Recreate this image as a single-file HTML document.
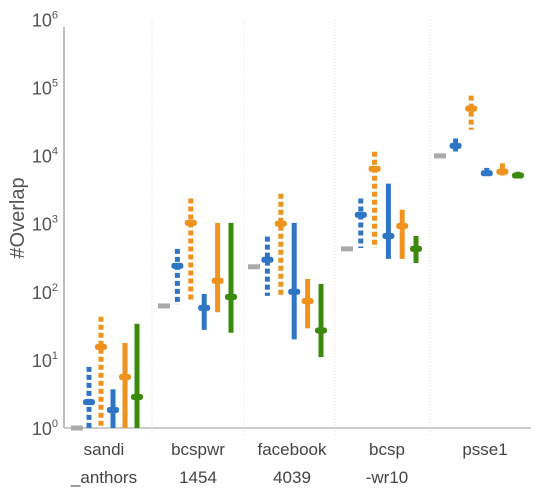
<!DOCTYPE html>
<html><head><meta charset="utf-8"><style>
html,body{margin:0;padding:0;background:#fff;}
svg{display:block;font-family:"Liberation Sans",sans-serif;}
</style></head><body>
<svg id="chart" width="535" height="490">
<g id="axes"></g>
<g id="marks"></g>
</svg>
<script>
const categories = [["sandi","_anthors"],["bcspwr","1454"],["facebook","4039"],["bcsp","-wr10"],["psse1",""]];
const seriesNames = ["baseline","blue-dashed","orange-dashed","blue-solid","orange-solid","green-solid"];
const grayVals = [1, 62, 233, 427, 9900];
const blueDashMin = [1, 64, 87, 440, 11000];
const blueDashMed = [2.4, 240, 295, 1350, 13900];
const blueDashMax = [7.9, 427, 646, 2340, 17800];
const orangeDashMin = [1, 70, 87, 440, 24000];
const orangeDashMed = [15.5, 1030, 1000, 6380, 49000];
const orangeDashMax = [43, 2340, 2750, 11400, 76000];
const blueMin = [1, 27.6, 20, 305, 5100];
const blueMed = [1.84, 58, 100, 660, 5500];
const blueMax = [3.7, 93, 1030, 3870, 6600];
const orangeMin = [1, 50, 29, 305, 5100];
const orangeMed = [5.6, 145, 73, 925, 5800];
const orangeMax = [17.7, 1030, 155, 1600, 7700];
const greenMin = [1, 25, 11, 265, 4800];
const greenMed = [2.85, 84, 27, 427, 5100];
const greenMax = [34, 1030, 130, 660, 5800];
const yTicks = [0,1,2,3,4,5,6];

const NS="http://www.w3.org/2000/svg";
const y0=428, dec=68.1;
function yScale(v){return y0-dec*Math.log10(v);}
const groupStart=[77,164,254,347,440];
const groupStep=[12,13.4,13.4,13.8,15.6];
function xScale(g,s){return groupStart[g]+groupStep[g]*s;}
function mk(tag,attrs,parent){const e=document.createElementNS(NS,tag);for(const k in attrs)e.setAttribute(k,attrs[k]);parent.appendChild(e);return e;}
const axes=document.getElementById('axes'), marks=document.getElementById('marks');

let e=mk('line',{x1:64,y1:27,x2:64,y2:428,stroke:'#aaa','stroke-width':1.5},axes);


e=mk('line',{x1:64,y1:428,x2:531,y2:428,stroke:'#bbb','stroke-width':1.5},axes);


[152,244,335,430].forEach((x,i)=>{
  const d=mk('line',{x1:x,y1:20,x2:x,y2:436,stroke:'#ddd','stroke-width':1,'stroke-dasharray':'1 2'},axes);
  
  
});
yTicks.forEach(p=>{
  const t=mk('text',{x:58,y:yScale(Math.pow(10,p))+7,'text-anchor':'end','font-size':18,fill:'#555'},axes);
  
  
  t.innerHTML='10<tspan dy="-8" font-size="11">'+p+'</tspan>';
});
e=mk('text',{x:0,y:0,transform:'translate(24,218) rotate(-90)','text-anchor':'middle','font-size':20,fill:'#555'},axes);


e.textContent='#Overlap';
const labelX=[104,198,292,387,485];
categories.forEach((c,i)=>{
  c.forEach((line,j)=>{
    if(!line)return;
    const t=mk('text',{x:labelX[i],y:455+j*28,'text-anchor':'middle','font-size':17,fill:'#444'},axes);
    
    
    t.textContent=line;
  });
});

const series=[
 {min:blueDashMin,med:blueDashMed,max:blueDashMax,color:'#2e75c6',dash:'5 3'},
 {min:orangeDashMin,med:orangeDashMed,max:orangeDashMax,color:'#f0931e',dash:'5 3'},
 {min:blueMin,med:blueMed,max:blueMax,color:'#2e75c6',dash:null},
 {min:orangeMin,med:orangeMed,max:orangeMax,color:'#f0931e',dash:null},
 {min:greenMin,med:greenMed,max:greenMax,color:'#3b8a0c',dash:null}
];
for(let g=0;g<categories.length;g++){
  const gx=xScale(g,0), gy=yScale(grayVals[g]);
  const r=mk('rect',{x:gx-6,y:gy-2.5,width:12,height:5,fill:'#aaa'},marks);
  
  
  series.forEach((s,si)=>{
    const x=xScale(g,si+1);
    const ln=mk('line',{x1:x,x2:x,y1:yScale(s.max[g]),y2:yScale(s.min[g]),stroke:s.color,'stroke-width':5},marks);
    if(s.dash)ln.setAttribute('stroke-dasharray',s.dash);
    
    
    const m=mk('rect',{x:x-6,y:yScale(s.med[g])-3,width:12,height:6,rx:2.5,fill:s.color},marks);
    
    
  });
}
</script>
</body></html>
